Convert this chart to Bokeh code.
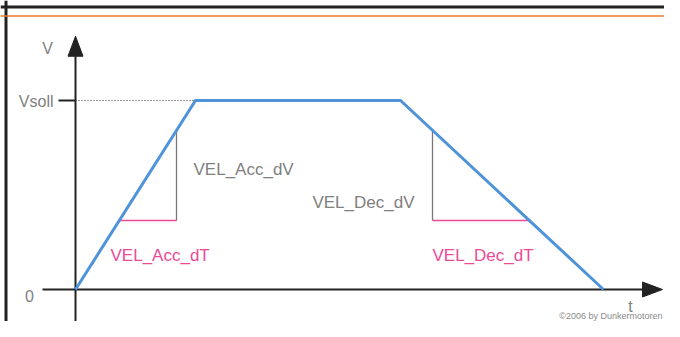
from bokeh.plotting import figure
from bokeh.models import Range1d, Span, Label
from bokeh.embed import file_html
from bokeh.resources import INLINE

# ---- chart values ----
t_profile = [0.0, 1.20, 3.25, 5.28]      # time points of the trapezoid
v_profile = [0.0, 1.0, 1.0, 0.0]         # velocity (Vsoll = 1)
v_soll = 1.0
tick_labels = ["0", "Vsoll"]
tick_values = [0.0, v_soll]

acc_dT_t = [0.44, 1.01]
acc_dT_v = [0.365, 0.365]
acc_dV_t = [1.01, 1.01]
acc_dV_v = [0.365, 0.84]
dec_dV_t = [3.57, 3.57]
dec_dV_v = [0.365, 0.842]
dec_dT_t = [3.57, 4.54]
dec_dT_v = [0.365, 0.365]

# ---- layout (pixels) ----
W, H = 664, 321
PX_T, PX_V = 100.0, 189.0          # pixels per unit
ORIG_X, ORIG_Y = 75.0, 289.0       # origin inside figure (from left / top)

x0 = -ORIG_X / PX_T
x1 = (W - ORIG_X) / PX_T
y0 = -(H - ORIG_Y) / PX_V
y1 = ORIG_Y / PX_V

def dx(px):
    return px / PX_T

def dy(px):
    return px / PX_V

p = figure(width=W, height=H, output_backend="svg", toolbar_location=None,
           x_range=Range1d(x0, x1), y_range=Range1d(y0, y1),
           min_border=0, tools="")
p.axis.visible = False
p.grid.visible = False
p.outline_line_color = None
p.background_fill_color = "white"
p.border_fill_color = "white"

FONT = "Liberation Sans"
DARK = "#222222"
GRAY_T = "#808080"
PINK = "#ec4a96"
BLUE = "#4f93d8"

# frame
p.add_layout(Span(location=y1 - dy(6.5), dimension="width", line_color=DARK, line_width=3))
p.add_layout(Span(location=x0 + dx(5.5), dimension="height", line_color=DARK, line_width=3))
p.add_layout(Span(location=y1 - dy(15.5), dimension="width", line_color="#e8782e", line_width=1.5))

# axes
t_axis_min, t_axis_max = -0.33, 5.87
v_axis_min, v_axis_max = -0.18, 1.34
head_len, head_w = 20, 15
p.line([0, 0], [v_axis_min, v_axis_max - dy(head_len)], line_color=DARK, line_width=2)
p.line([t_axis_min, t_axis_max - dx(head_len)], [0, 0], line_color=DARK, line_width=2)
p.patch([0, -dx(head_w / 2), dx(head_w / 2)],
        [v_axis_max, v_axis_max - dy(head_len), v_axis_max - dy(head_len)],
        fill_color=DARK, line_color=DARK)
p.patch([t_axis_max, t_axis_max - dx(head_len), t_axis_max - dx(head_len)],
        [0, dy(head_w / 2), -dy(head_w / 2)],
        fill_color=DARK, line_color=DARK)

# Vsoll tick and dotted guide
p.line([-dx(17), 0], [v_soll, v_soll], line_color=DARK, line_width=2)
p.line([0, t_profile[1]], [v_soll, v_soll], line_color="#333333", line_width=1, line_dash="1 2")

# measuring triangles
p.line(acc_dV_t, acc_dV_v, line_color="#777777", line_width=1.3)
p.line(dec_dV_t, dec_dV_v, line_color="#777777", line_width=1.3)
p.line(acc_dT_t, acc_dT_v, line_color=PINK, line_width=1.5)
p.line(dec_dT_t, dec_dT_v, line_color=PINK, line_width=1.5)

# profile
p.line(t_profile, v_profile, line_color=BLUE, line_width=3, line_join="miter")

def lab(text, x, y, xo=0, yo=0, align="left", color=GRAY_T, size="16px",
        baseline="alphabetic"):
    p.add_layout(Label(x=x, y=y, x_offset=xo, y_offset=yo, text=text,
                       text_align=align, text_baseline=baseline,
                       text_color=color, text_font=FONT, text_font_size=size))

# axis labels
lab("V", -dx(28), v_axis_max, yo=-12.5, align="center")
lab("t", t_profile[-1], 0, xo=27, yo=-17, align="center")
lab(tick_labels[1], -dx(22), tick_values[1], yo=-0.5, align="right")
lab(tick_labels[0], -dx(46), tick_values[0], yo=-6, align="center")

# annotation labels
lab("VEL_Acc_dV", acc_dV_t[0], acc_dV_v[1], xo=17, yo=-(169 - 130), size="17px")
lab("VEL_Dec_dV", dec_dV_t[0], dec_dV_v[1], xo=-18, yo=-(202 - 130), align="right", size="17px")
lab("VEL_Acc_dT", acc_dT_t[0], acc_dT_v[0], xo=-9, yo=-35, color=PINK, size="17px")
lab("VEL_Dec_dT", dec_dT_t[0], dec_dT_v[0], xo=0, yo=-35, color=PINK, size="17px")

# copyright
p.add_layout(Label(x=x1, y=y0, x_offset=-2, y_offset=6, text="\u00a92006 by Dunkermotoren",
                   text_align="right", text_baseline="alphabetic",
                   text_color="#8a8a8a", text_font=FONT, text_font_size="9px"))

open("out.html", "w").write(file_html(p, INLINE))
